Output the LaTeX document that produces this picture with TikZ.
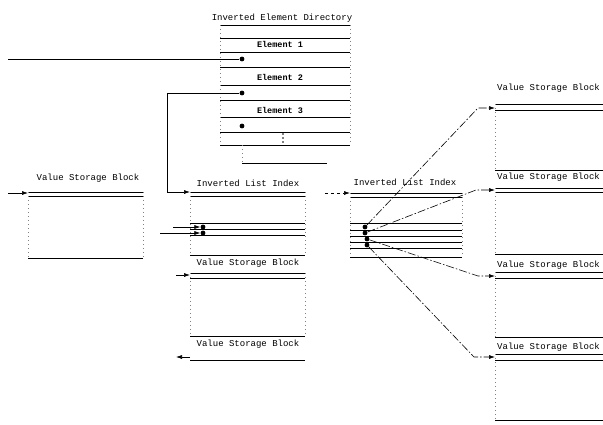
\documentclass[tikz,border=0pt]{standalone}
\usepackage{fontspec}
\setmonofont{Liberation Mono}
\usetikzlibrary{arrows.meta}
\begin{document}
\begin{tikzpicture}[x=1pt, y=-1pt,
    title/.style={font=\ttfamily\fontsize{9}{10}\selectfont, inner sep=0pt},
    entry/.style={font=\ttfamily\bfseries\fontsize{8.5}{10}\selectfont, inner sep=0pt},
    rule/.style={line width=0.7pt},
    side/.style={gray, line width=0.5pt, dash pattern=on 1pt off 3pt},
    ptr/.style={fill, circle, inner sep=1.7pt},
    link/.style={line width=0.6pt, -{Latex[length=6pt,width=4pt]}},
    farlink/.style={link, dash pattern=on 8pt off 2pt on 1.5pt off 2pt}]
  \useasboundingbox (0,0) rectangle (603,424);

  % inverted element directory
  \node[title] (dirtitle) at (282,18) {Inverted Element Directory};
  \foreach \y in {25,38,52,67,85,100,117,132,145}
    \draw[rule] (220,\y) -- (350,\y);
  \draw[rule] (242,163) -- (327,163);
  \draw[side] (220,25) -- (220,145) (350,25) -- (350,145) (242,145) -- (242,163);
  \node[entry] (el1) at (280,44) {Element 1};
  \node[entry] (el2) at (280,77) {Element 2};
  \node[entry] (el3) at (280,110) {Element 3};
  \node[ptr] (e1) at (242,59) {};
  \node[ptr] (e2) at (242,93) {};
  \node[ptr] (e3) at (242,126) {};
  % more elements follow
  \foreach \y in {134,138,142}
    \fill (283,\y) circle (0.9pt);

  % left value storage block
  \node[title] (lvsbt) at (88,178) {Value Storage Block};
  \foreach \y in {192,196,258}
    \draw[rule] (28,\y) -- (143,\y);
  \draw[side] (28,192) -- (28,258) (143,192) -- (143,258);
  \coordinate (lvsb) at (28,193);
  \coordinate (lin) at (8,193);

  % inverted list index, middle
  \node[title] (mili) at (248,183) {Inverted List Index};
  \foreach \y in {192,196,223,229,235,255}
    \draw[rule] (190,\y) -- (305,\y);
  \draw[side] (190,192) -- (190,255) (305,192) -- (305,255);
  \coordinate (mili in) at (190,192);
  \node[ptr] (ma) at (203,227) {};
  \node[ptr] (mb) at (203,233) {};
  \coordinate (ma in) at (173,227);
  \coordinate (mb in) at (160,233);

  % value storage blocks, middle
  \node[title] (mvsb1t) at (248,263) {Value Storage Block};
  \foreach \y in {273,278,336}
    \draw[rule] (190,\y) -- (305,\y);
  \draw[side] (190,273) -- (190,336) (305,273) -- (305,336);
  \coordinate (mvsb1) at (190,275);
  \coordinate (mvsb1 in) at (176,275);
  \node[title] (mvsb2t) at (248,344) {Value Storage Block};
  \draw[rule] (190,360) -- (305,360);
  \coordinate (mvsb2) at (190,357);
  \coordinate (mvsb2 out) at (176,357);

  % inverted list index, right
  \node[title] (rili) at (405,182) {Inverted List Index};
  \foreach \y in {193,197,223,230,236,242,248,257}
    \draw[rule] (350,\y) -- (462,\y);
  \draw[side] (350,193) -- (350,257) (462,193) -- (462,257);
  \coordinate (rili in) at (350,193);
  \coordinate (rili from) at (325,193);
  \node[ptr] (ra) at (365,227) {};
  \node[ptr] (rb) at (365,233) {};
  \node[ptr] (rc) at (367,239) {};
  \node[ptr] (rd) at (367,245) {};

  % value storage blocks, right
  \node[title, anchor=west] (rvsb1t) at (497,88) {Value Storage Block};
  \node[title, anchor=west] (rvsb2t) at (497,177) {Value Storage Block};
  \node[title, anchor=west] (rvsb3t) at (497,265) {Value Storage Block};
  \node[title, anchor=west] (rvsb4t) at (497,347) {Value Storage Block};
  \foreach \y in {104,110,170,188,192,254,272,278,337,354,360,420}
    \draw[rule] (495,\y) -- (603,\y);
  \draw[side] (495,104) -- (495,170) (495,188) -- (495,254)
              (495,272) -- (495,337) (495,354) -- (495,420);
  \coordinate (rvsb1) at (495,108);
  \coordinate (rvsb2) at (495,190);
  \coordinate (rvsb3) at (495,276);
  \coordinate (rvsb4) at (495,357);

  % connectors
  \coordinate (start) at (8,59);
  \draw[rule] (start) -- (e1);
  \draw[link] (e2) -- ++(-75,0) |- (mili in);
  \draw[link] (lin) -- (lvsb);
  \draw[link] (ma in) -- (ma);
  \draw[link] (mb in) -- (mb);
  \draw[link] (mvsb1 in) -- (mvsb1);
  \draw[link] (mvsb2) -- (mvsb2 out);
  \draw[link, dashed] (rili from) -- (rili in);
  \draw[farlink] (ra) -- (478,108) -- (rvsb1);
  \draw[farlink] (rb) -- (476,190) -- (rvsb2);
  \draw[farlink] (rc) -- (478,276) -- (rvsb3);
  \draw[farlink] (rd) -- (474,357) -- (rvsb4);
\end{tikzpicture}
\end{document}
